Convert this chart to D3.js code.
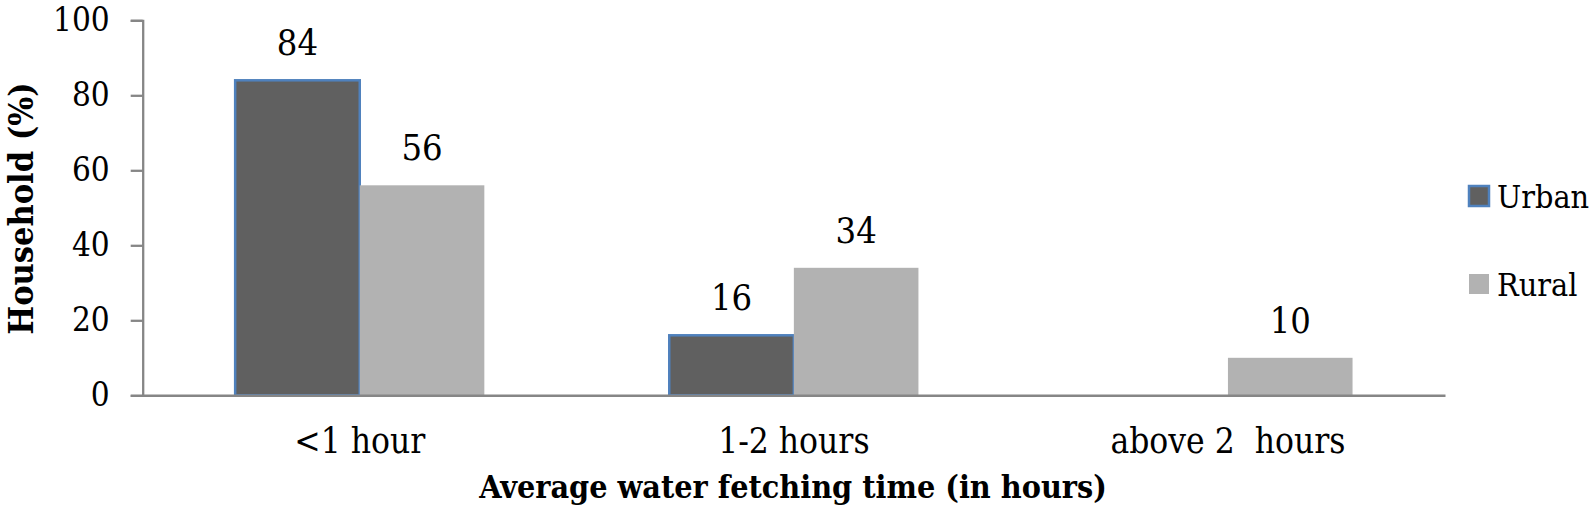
<!DOCTYPE html>
<html>
<head>
<meta charset="utf-8">
<script src="https://cdn.jsdelivr.net/npm/d3@7"></script>
<style>
  html, body { margin: 0; padding: 0; background: #fff; }
  svg { display: block; }
  svg text { font-family: "DejaVu Serif Condensed", "DejaVu Serif", serif; font-stretch: condensed; fill: #000; white-space: pre; }
</style>
</head>
<body>
<svg id="chart" width="1594" height="520"></svg>
<script>
const categories = ["<1 hour", "1-2 hours", "above 2  hours"];
const seriesNames = ["Urban", "Rural"];
const urbanValues = [84, 16, null];
const ruralValues = [56, 34, 10];
const yTicks = [0, 20, 40, 60, 80, 100];
const yTitle = "Household (%)";
const xTitle = "Average water fetching time (in hours)";

const colors = { Urban: "#606060", Rural: "#b2b2b2" };
const svg = d3.select("#chart");

const x0 = d3.scaleBand().domain(categories).range([142.7, 1445])
  .paddingInner(0.426).paddingOuter(0.213);
const x1 = d3.scaleBand().domain(seriesNames).range([0, x0.bandwidth()]).padding(0);
const y = d3.scaleLinear().domain([0, 100]).range([395.3, 20.3]);

const data = categories.map((c, i) => ({
  cat: c,
  vals: [{ s: "Urban", v: urbanValues[i] }, { s: "Rural", v: ruralValues[i] }]
}));

const yAxis = d3.axisLeft(y).tickValues(yTicks).tickSize(12).tickPadding(21);
const gy = svg.append("g").attr("transform", `translate(${x0.range()[0]},0)`).call(yAxis)
  .attr("font-family", null);
gy.select(".domain").attr("stroke", "#868686").attr("stroke-width", 2.3);
gy.selectAll(".tick line").attr("stroke", "#868686").attr("stroke-width", 2.3);
gy.selectAll(".tick text").attr("font-size", 33).attr("fill", "#000");

const groups = svg.append("g").selectAll("g").data(data).join("g")
  .attr("transform", d => `translate(${x0(d.cat)},0)`);

groups.selectAll("rect").data(d => d.vals.filter(v => v.v != null)).join("rect")
  .attr("x", d => x1(d.s))
  .attr("y", d => y(d.v))
  .attr("width", x1.bandwidth())
  .attr("height", d => y(0) - y(d.v))
  .attr("fill", d => colors[d.s])
  .attr("stroke", d => d.s === "Urban" ? "#4f81bd" : "none")
  .attr("stroke-width", 2.5);

groups.selectAll("text.val").data(d => d.vals.filter(v => v.v != null)).join("text")
  .attr("class", "val")
  .attr("x", d => x1(d.s) + x1.bandwidth() / 2)
  .attr("y", d => y(d.v) - 25)
  .attr("text-anchor", "middle")
  .attr("font-size", 36)
  .text(d => d.v);

const xAxis = d3.axisBottom(x0).tickSize(0).tickPadding(0);
const gx = svg.append("g").attr("transform", `translate(0,${y(0)})`).call(xAxis)
  .attr("font-family", null);
gx.select(".domain").attr("stroke", "#868686").attr("stroke-width", 2.5);
gx.selectAll(".tick text").attr("font-size", 35).attr("fill", "#000")
  .attr("dy", null).attr("y", 58);

svg.append("text")
  .attr("transform", `translate(33,208.5) rotate(-90)`)
  .attr("text-anchor", "middle")
  .attr("font-size", 34).attr("font-weight", "bold")
  .text(yTitle);

svg.append("text")
  .attr("x", 793)
  .attr("y", 498)
  .attr("text-anchor", "middle")
  .attr("font-size", 32).attr("font-weight", "bold")
  .text(xTitle);

const legend = svg.append("g").selectAll("g").data(seriesNames).join("g")
  .attr("transform", (d, i) => `translate(1469,${186 + i * 88})`);
legend.append("rect")
  .attr("width", 20).attr("height", 20)
  .attr("fill", d => colors[d])
  .attr("stroke", d => d === "Urban" ? "#4f81bd" : "none")
  .attr("stroke-width", 2.5);
legend.append("text")
  .attr("x", 28).attr("y", 22)
  .attr("font-size", 32)
  .text(d => d);
</script>
</body>
</html>
